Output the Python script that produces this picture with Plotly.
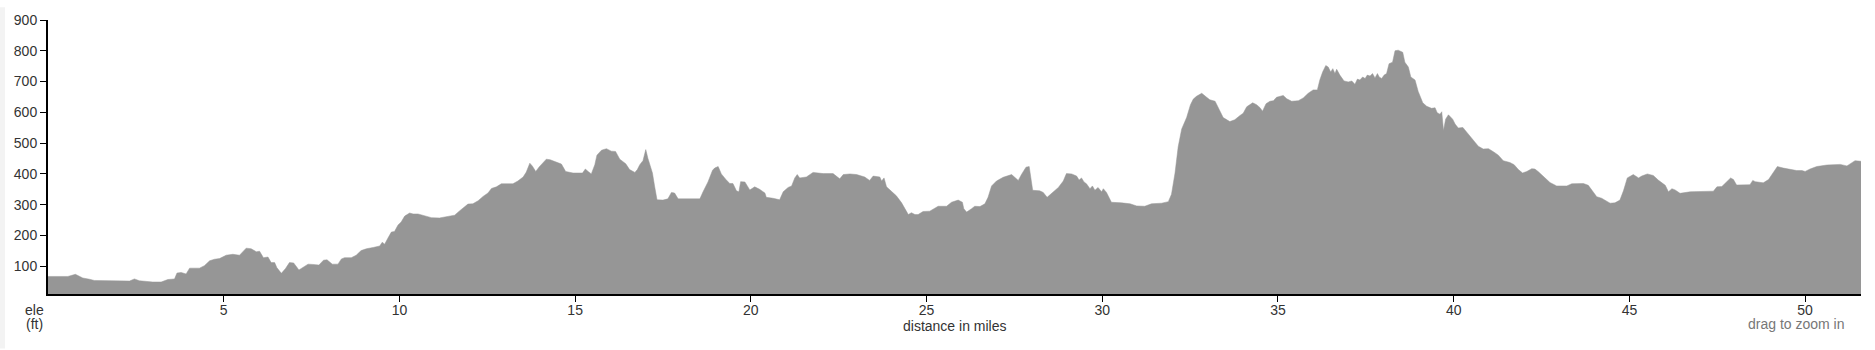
import plotly.graph_objects as go

# distance along route (miles)
miles = [
    0.00, 0.565, 0.78, 0.99, 1.18, 1.32, 2.32, 2.46, 2.60, 2.98, 3.22, 3.41, 3.60, 3.67, 3.79, 3.93,
    4.03, 4.31, 4.45, 4.60, 4.74, 4.88, 5.07, 5.26, 5.45, 5.64, 5.78, 5.93, 6.02, 6.07, 6.13, 6.26,
    6.35, 6.45, 6.51, 6.64, 6.76, 6.87, 6.99, 7.14, 7.25, 7.40, 7.54, 7.71, 7.84, 7.94, 8.09, 8.25,
    8.35,
    8.44, 8.63, 8.77, 8.91, 9.06, 9.25, 9.44, 9.51, 9.58, 9.67, 9.77, 9.86, 9.96, 10.05, 10.15, 10.29,
    10.39, 10.53, 10.72, 10.91, 11.14, 11.33, 11.57, 11.71, 11.95, 12.09, 12.24, 12.38, 12.52, 12.62,
    12.76, 12.90, 13.04, 13.23, 13.37, 13.52, 13.61, 13.71, 13.78, 13.88, 13.97, 14.09, 14.18, 14.29,
    14.42, 14.61, 14.73, 14.94, 15.21, 15.29, 15.37, 15.46, 15.56, 15.62, 15.75, 15.89, 16.03, 16.15,
    16.27, 16.44, 16.55, 16.70, 16.77, 16.84, 16.93, 17.01,
    17.07, 17.20, 17.26, 17.33, 17.50, 17.64, 17.74, 17.83, 17.93, 18.17, 18.40, 18.55, 18.64, 18.78,
    18.91, 18.97, 19.07, 19.16, 19.29, 19.40, 19.49, 19.59, 19.66, 19.71, 19.83, 19.89, 19.97, 20.11,
    20.25, 20.40, 20.44, 20.63, 20.82, 20.92, 21.06, 21.16, 21.25, 21.32, 21.39, 21.58, 21.77, 22.06,
    22.34, 22.53, 22.63, 22.82, 23.01, 23.24, 23.38, 23.48, 23.67, 23.72, 23.79, 23.86, 24.00, 24.14,
    24.29, 24.48, 24.57, 24.67, 24.76, 24.90, 25.09, 25.33,
    25.57, 25.71, 25.90, 26.02, 26.06, 26.14, 26.28, 26.37, 26.52, 26.66, 26.75, 26.85, 26.99, 27.18,
    27.42, 27.51, 27.61, 27.70, 27.83, 27.92, 27.96, 28.02, 28.22, 28.32, 28.43, 28.56, 28.75, 28.89,
    28.98, 29.13, 29.27, 29.34, 29.41, 29.48, 29.55, 29.65, 29.72, 29.79, 29.88, 29.98, 30.03, 30.12,
    30.22, 30.26, 30.55, 30.79, 30.98, 31.21, 31.40, 31.69, 31.88, 31.97, 32.07, 32.16, 32.26, 32.40,
    32.51, 32.59, 32.68, 32.83, 32.97, 33.06, 33.21, 33.30, 33.44, 33.63, 33.77,
    33.92, 34.01, 34.11, 34.28, 34.39, 34.49, 34.56, 34.66, 34.77, 34.87, 34.96, 35.15, 35.25, 35.39,
    35.58, 35.72, 35.86, 36.00, 36.12, 36.19, 36.27, 36.36, 36.43, 36.50, 36.56, 36.62, 36.67, 36.76,
    36.88, 37.00, 37.10, 37.19, 37.26, 37.33, 37.41, 37.48, 37.54, 37.62, 37.69, 37.76, 37.83, 37.88,
    37.95, 38.02, 38.09, 38.16, 38.26, 38.33, 38.42, 38.55, 38.61, 38.71, 38.78, 38.90, 38.99, 39.12,
    39.23, 39.37, 39.47, 39.53, 39.61, 39.66, 39.71, 39.77, 39.85, 39.91, 39.97, 40.04, 40.13, 40.26,
    40.37, 40.46, 40.56, 40.70, 40.84, 40.99, 41.13, 41.27, 41.41, 41.60, 41.72, 41.84, 41.96, 42.08,
    42.22, 42.31, 42.41, 42.55, 42.65, 42.74,
    42.93, 43.22, 43.36, 43.69, 43.83, 43.93, 44.07, 44.21, 44.35, 44.45, 44.59, 44.73, 44.83, 44.94,
    45.11, 45.26, 45.35, 45.51, 45.68, 45.82, 46.02, 46.11, 46.21, 46.30, 46.44, 46.73, 47.39, 47.49,
    47.63, 47.72, 47.88, 47.96, 48.05, 48.43, 48.51, 48.58, 48.81, 48.96, 49.10, 49.21, 49.38, 49.57,
    49.76, 49.91, 50.00, 50.14, 50.33, 50.62, 51.00, 51.19, 51.28, 51.42, 51.59,
]

# elevation (ft)
elevation = [
    67, 67, 74, 62, 58, 54, 52, 59, 53, 49, 49, 57, 59, 78, 80, 75,
    94, 94, 102, 118, 123, 125, 136, 139, 136, 159, 157, 147, 149, 141, 128, 130,
    112, 112, 96, 77, 93, 112, 111, 88, 96, 107, 106, 104, 120, 121, 107, 107,
    124,
    128, 128, 136, 151, 157, 161, 166, 178, 172, 191, 211, 213, 234, 244, 263, 273,
    270, 270, 263, 258, 257, 260, 266, 280, 302, 303, 313, 327, 338, 353,
    358, 368, 367, 368, 377, 390, 406, 435, 426, 408, 422, 438, 448, 446,
    440, 432, 408, 403, 403, 416, 408, 400, 430, 461, 477, 482, 474, 473,
    448, 433, 414, 405, 414, 430, 443, 479,
    451, 403, 361, 316, 315, 319, 340, 338, 319, 319, 321, 319, 342, 374,
    412, 419, 424, 400, 382, 369, 369, 345, 342, 375, 374, 361, 348, 358,
    350, 338, 324, 321, 316, 342, 356, 361, 387, 398, 387, 390, 405, 401,
    401, 384, 398, 400, 398, 390, 379, 393, 390, 377, 387, 358, 342, 329,
    306, 268, 274, 268, 268, 278, 279, 295,
    295, 308, 315, 308, 287, 276, 287, 295, 294, 303, 324, 361, 377, 389,
    398, 389, 379, 398, 422, 424, 393, 347, 345, 340, 324, 337, 356, 377,
    401, 400, 393, 380, 387, 374, 368, 352, 361, 347, 356, 342, 352, 340,
    319, 308, 306, 303, 296, 295, 303, 305, 310, 334, 403, 488, 546, 583,
    625, 643, 652, 662, 649, 641, 636, 615, 583, 570, 576,
    590, 597, 618, 631, 625, 615, 604, 628, 636, 638, 649, 655, 644, 636,
    638, 647, 662, 673, 673, 705, 731, 752, 747, 731, 742, 726, 740, 721,
    702, 699, 702, 691, 708, 705, 715, 710, 721, 718, 726, 712, 726, 715,
    710, 721, 726, 758, 763, 800, 802, 795, 763, 747, 715, 705, 668, 631,
    620, 613, 615, 599, 594, 602, 541, 578, 592, 583, 578, 562, 549, 551,
    535, 522, 507, 490, 481, 482, 472, 461, 443, 437, 430, 414, 403, 408,
    417, 416, 407, 393, 380, 372,
    361, 361, 368, 369, 363, 348, 326, 321, 310, 305, 306, 315, 345, 387,
    398, 387, 393, 400, 395, 380, 363, 342, 352, 348, 337, 342, 344, 358,
    359, 368, 387, 382, 364, 365, 379, 375, 371, 382, 408, 424, 419, 414,
    411, 411, 408, 416, 424, 429, 431, 426, 433, 443, 441,
]

x_ticks = [5, 10, 15, 20, 25, 30, 35, 40, 45, 50]
y_ticks = [100, 200, 300, 400, 500, 600, 700, 800, 900]

FONT = "Arial, 'Liberation Sans', Helvetica, sans-serif"
TXT = "#333333"

fig = go.Figure()
fig.add_trace(go.Scatter(
    x=miles, y=elevation, mode="lines", fill="tozeroy",
    fillcolor="#969696", line=dict(color="#969696", width=0.5),
    hoverinfo="x+y", showlegend=False,
))

fig.update_layout(
    width=1875, height=350,
    margin=dict(l=48, r=14, t=13, b=56),
    paper_bgcolor="white", plot_bgcolor="white",
    font=dict(family=FONT, size=14, color=TXT),
    xaxis=dict(
        range=[0, 51.59], tickvals=x_ticks, ticks="outside", ticklen=6, tickwidth=1,
        tickcolor="#000", showline=True, linecolor="#000", linewidth=2,
        showgrid=False, zeroline=False, ticklabelstandoff=-4,
        tickfont=dict(size=14, color=TXT),
    ),
    yaxis=dict(
        range=[10, 900], tickvals=y_ticks, ticks="outside", ticklen=6, tickwidth=1,
        tickcolor="#000", showline=True, linecolor="#000", linewidth=2,
        showgrid=False, zeroline=False,
        tickfont=dict(size=14, color=TXT),
    ),
    shapes=[
        dict(type="rect", xref="paper", yref="paper",
             x0=-48 / 1813, x1=-43 / 1813, y0=-56 / 281, y1=1 + 13 / 281,
             fillcolor="#f3f3f3", line=dict(width=0), layer="below"),
    ],
    annotations=[
        dict(text="ele", x=-0.0075, y=-0.057, xref="paper", yref="paper",
             showarrow=False, xanchor="center", yanchor="middle",
             font=dict(size=14, color=TXT)),
        dict(text="(ft)", x=-0.0075, y=-0.110, xref="paper", yref="paper",
             showarrow=False, xanchor="center", yanchor="middle",
             font=dict(size=14, color=TXT)),
        dict(text="distance in miles", x=0.5, y=-0.117, xref="paper", yref="paper",
             showarrow=False, xanchor="center", yanchor="middle",
             font=dict(size=14, color=TXT)),
        dict(text="drag to zoom in", x=0.9923, y=-0.110, xref="paper", yref="paper",
             showarrow=False, xanchor="right", yanchor="middle",
             font=dict(size=14, color="#777777")),
    ],
)

fig.write_html("out.html", config={"displayModeBar": False})
